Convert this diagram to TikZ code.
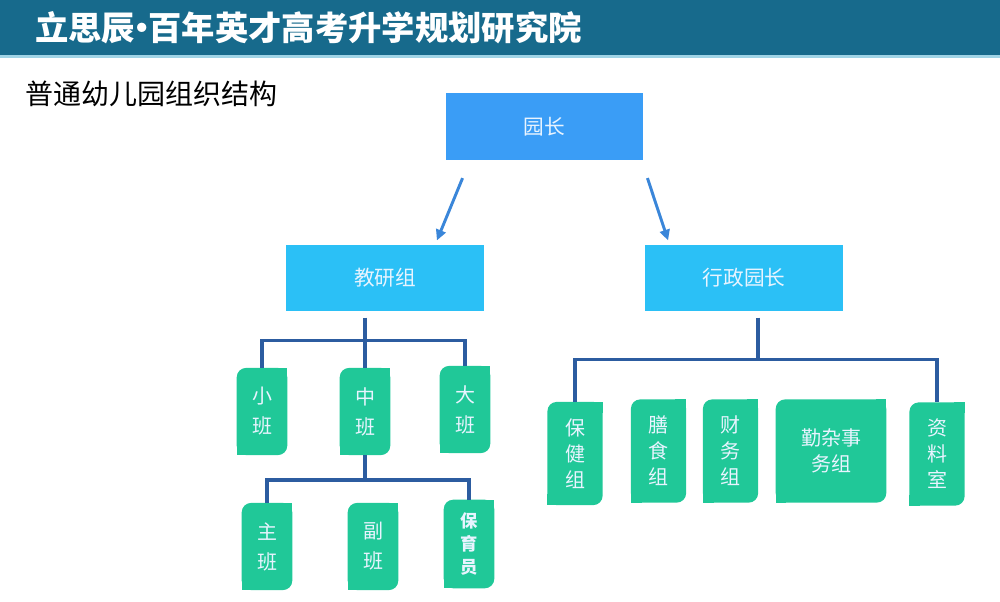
\documentclass[tikz,border=0pt]{standalone}
\usepackage{fontspec}
\setmainfont{Noto Sans CJK SC}
\usepackage{tikz}
\usetikzlibrary{arrows.meta,positioning,backgrounds}
\definecolor{head}{RGB}{23,106,140}
\definecolor{headline}{RGB}{160,212,230}
\definecolor{topblue}{RGB}{58,157,246}
\definecolor{midblue}{RGB}{43,192,246}
\definecolor{leafg}{RGB}{32,200,152}
\definecolor{lnblue}{RGB}{44,92,160}
\definecolor{arrblue}{RGB}{58,134,217}
\definecolor{boxtext}{RGB}{232,244,255}
\tikzset{
  unit/.style={minimum width=148pt,minimum height=50pt,inner sep=0pt,align=center,text=boxtext,font=\fontsize{15.5}{18}\selectfont},
  leaf/.style={minimum width=37.5pt,minimum height=65pt,inner sep=0pt,align=center,text=boxtext,font=\fontsize{15}{22.5}\selectfont},
  wide/.style={leaf,minimum width=41pt,minimum height=77pt,font=\fontsize{15}{19.5}\selectfont},
  tie/.style={draw=lnblue,line width=2.6pt},
  arr/.style={-{Triangle[length=8pt,width=7.5pt]},draw=arrblue,line width=2.2pt}
}
\begin{document}
\begin{tikzpicture}[x=0.75pt,y=-0.75pt]
\useasboundingbox (0,0) rectangle (1000,602);
% header
\fill[head] (0,0) rectangle (1000,55);
\fill[headline] (0,55) rectangle (1000,58);
\node[anchor=west,inner sep=0pt,text=white,font=\bfseries\fontsize{25}{30}\selectfont] (ttl) at (35,28) {立思辰\kern-0.3em•\kern-0.3em百年英才高考升学规划研究院};
\node[anchor=west,inner sep=0pt,font=\fontsize{21}{25}\selectfont] (sub) at (25,94) {普通幼儿园组织结构};
% top levels
\node[unit,fill=topblue] (yz) at (544.5,126.5) {园长};
\node[unit,fill=midblue] (jy) at (385,278) {教研组};
\node[unit,fill=midblue] (xz) at (744,278) {行政园长};
% classes
\node[leaf] (xb) at (262,411.5) {小\\班};
\node[leaf] (zb) at (365,411.5) {中\\班};
\node[leaf] (db) at (465,409.5) {大\\班};
\node[leaf] (zhu) at (267,546.5) {主\\班};
\node[leaf] (fu) at (373,546.5) {副\\班};
\node[leaf,minimum height=66pt,font=\bfseries\fontsize{13}{17}\selectfont] (byy) at (469,544) {保\\育\\员};
% administration
\node[wide] (bj) at (575,453.5) {保\\健\\组};
\node[wide] (ss) at (658.5,451) {膳\\食\\组};
\node[wide] (cw) at (730.5,451) {财\\务\\组};
\node[wide,minimum width=82.5pt] (qz) at (831,451) {勤杂事\\务组};
\node[wide] (zl) at (937,454) {资\\料\\室};
\begin{scope}[on background layer]
\foreach \n in {xb,zb,db,zhu,fu,byy,bj,ss,cw,qz,zl}{
  \fill[leafg,rounded corners=7pt] (\n.south west) rectangle (\n.north east);
  \fill[leafg] ([xshift=-8pt,yshift=-8pt]\n.north east) rectangle (\n.north east);
  \fill[leafg] (\n.south west) rectangle ([xshift=8pt,yshift=8pt]\n.south west);
}
\end{scope}
% arrows
\draw[arr] ([xshift=12.75pt,yshift=-13.5pt]yz.south west) -- ([xshift=-35.25pt,yshift=3pt]jy.north east);
\draw[arr] ([xshift=3pt,yshift=-13.5pt]yz.south east) -- ([xshift=17.25pt,yshift=3pt]xz.north west);
% tree lines
\coordinate (jyb) at ([yshift=-4.5pt]jy.south);
\draw[tie] (jyb -| zb.north) -- (zb.north);
\draw[tie] (xb.north) |- ([yshift=-21.75pt]jy.south) -| (db.north);
\draw[tie] (zb.south) -- ([yshift=-18.75pt]zb.south) coordinate (mj);
\draw[tie] (zhu.north) |- (mj) -| (byy.north);
\coordinate (xzb) at ([xshift=10.5pt,yshift=-4.5pt]xz.south);
\draw[tie] (xzb) -- ([yshift=-31.5pt]xzb) coordinate (rj);
\draw[tie] (bj.north) |- (rj) -| (zl.north);
\end{tikzpicture}
\end{document}
